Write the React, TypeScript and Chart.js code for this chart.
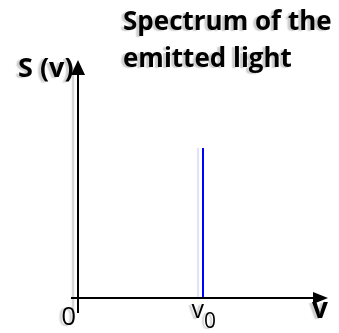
import React, { useEffect, useRef } from "react";
import { Chart, registerables, Plugin } from "chart.js";

Chart.register(...registerables);

// Emission line position and its height on the S(ν) axis
const lineFrequency = [1, 1];
const lineIntensity = [0, 0.63];

// Axis ranges
const xRange = [0, 2];
const yRange = [0, 1];

// Text drawn around the axes
const titleLines = ["Spectrum of the", "emitted light"];
const yAxisLabel = "S (v)";
const xAxisLabel = "v";
const originLabel = "0";
const lineLabel = "v";
const lineLabelSub = "0";

const FONT = "'Open Sans', 'DejaVu Sans', sans-serif";
const SHADOW = "rgba(0,0,0,0.2)";

function withShadow(ctx: CanvasRenderingContext2D, color: string, dx: number, fn: () => void) {
  ctx.save();
  ctx.shadowColor = color;
  ctx.shadowOffsetX = dx;
  ctx.shadowOffsetY = 1;
  ctx.shadowBlur = 1.5;
  fn();
  ctx.restore();
}

const lineShadow: Plugin = {
  id: "lineShadow",
  beforeDatasetDraw(chart) {
    const ctx = chart.ctx;
    ctx.save();
    ctx.shadowColor = "rgba(150,150,255,0.3)";
    ctx.shadowOffsetX = -5;
    ctx.shadowOffsetY = 0;
    ctx.shadowBlur = 1;
  },
  afterDatasetDraw(chart) {
    chart.ctx.restore();
  },
};

const axesAndText: Plugin = {
  id: "axesAndText",
  afterDraw(chart) {
    const ctx = chart.ctx;
    const xs = chart.scales.x;
    const ys = chart.scales.y;
    const x0 = xs.getPixelForValue(xRange[0]);
    const x1 = xs.getPixelForValue(xRange[1]);
    const y0 = ys.getPixelForValue(yRange[0]);
    const y1 = ys.getPixelForValue(yRange[1]);

    // vertical axis with arrowhead
    withShadow(ctx, SHADOW, -5, () => {
      ctx.strokeStyle = "#000";
      ctx.lineWidth = 2;
      ctx.beginPath();
      ctx.moveTo(x0, y0 + 15);
      ctx.lineTo(x0, y1 + 6);
      ctx.stroke();
    });
    ctx.fillStyle = "#000";
    ctx.beginPath();
    ctx.moveTo(x0, y1);
    ctx.lineTo(x0 + 7, y1 + 15);
    ctx.lineTo(x0 - 7, y1 + 15);
    ctx.closePath();
    ctx.fill();

    // horizontal axis
    ctx.strokeStyle = "#000";
    ctx.lineWidth = 2;
    ctx.beginPath();
    ctx.moveTo(x0 - 7, y0);
    ctx.lineTo(x1 - 6, y0);
    ctx.stroke();

    // texts
    withShadow(ctx, SHADOW, -3, () => {
      ctx.fillStyle = "#000";
      ctx.textBaseline = "alphabetic";
      ctx.textAlign = "left";

      ctx.font = `bold 26px ${FONT}`;
      ctx.fillText(titleLines[0], 123, 30, 209);
      ctx.fillText(titleLines[1], 123, 67);

      ctx.font = `bold 27px ${FONT}`;
      ctx.fillText(yAxisLabel, 18, 77);

      ctx.font = `26px ${FONT}`;
      ctx.textAlign = "right";
      ctx.fillText(originLabel, x0 - 2, 325);

      const xl = xs.getPixelForValue(lineFrequency[0]);
      ctx.textAlign = "right";
      ctx.font = `25px ${FONT}`;
      ctx.fillText(lineLabel, xl + 1, 318);
      ctx.textAlign = "left";
      ctx.font = `21px ${FONT}`;
      ctx.fillText(lineLabelSub, xl + 1, 328);

      ctx.font = `bold 28px ${FONT}`;
      ctx.fillText(xAxisLabel, x1 - 16, 318);
    });

    // horizontal arrowhead
    ctx.fillStyle = "#000";
    ctx.beginPath();
    ctx.moveTo(x1, y0);
    ctx.lineTo(x1 - 15, y0 - 6);
    ctx.lineTo(x1 - 15, y0 + 6);
    ctx.closePath();
    ctx.fill();
  },
};

export default function App() {
  const canvasRef = useRef<HTMLCanvasElement>(null);

  useEffect(() => {
    if (!canvasRef.current) return;
    const chart = new Chart(canvasRef.current, {
      type: "line",
      data: {
        datasets: [
          {
            data: lineFrequency.map((f, i) => ({ x: f, y: lineIntensity[i] })),
            borderColor: "#0000ff",
            borderWidth: 2,
            pointRadius: 0,
            fill: false,
          },
        ],
      },
      options: {
        responsive: false,
        animation: false,
        layout: { padding: { left: 78, right: 11, top: 60, bottom: 35 } },
        plugins: {
          legend: { display: false },
          tooltip: { enabled: false },
          title: { display: false },
        },
        scales: {
          x: { type: "linear", min: xRange[0], max: xRange[1], display: false },
          y: { type: "linear", min: yRange[0], max: yRange[1], display: false },
        },
      },
      plugins: [lineShadow, axesAndText],
    });
    return () => chart.destroy();
  }, []);

  return (
    <div style={{ position: "absolute", left: 0, top: 0, width: 339, height: 333, background: "#fff" }}>
      <canvas ref={canvasRef} width={339} height={333} />
    </div>
  );
}
